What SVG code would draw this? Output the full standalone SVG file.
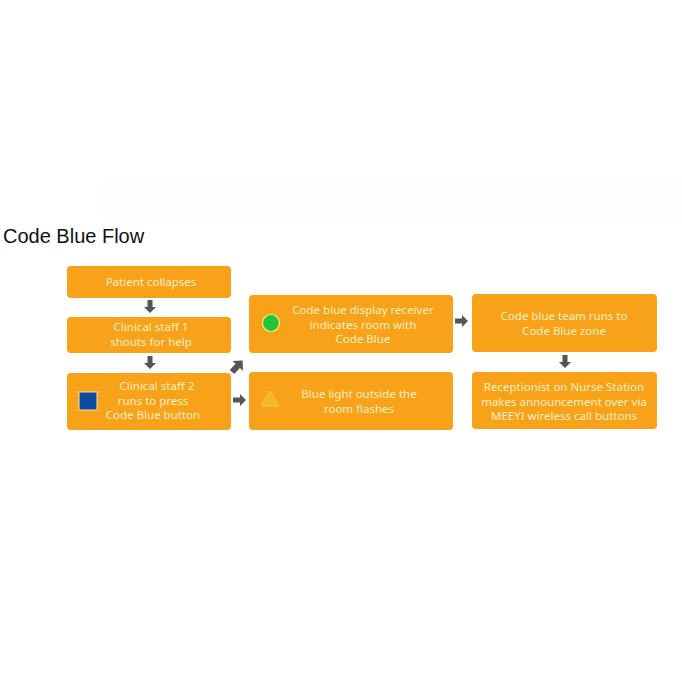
<svg xmlns="http://www.w3.org/2000/svg" width="682" height="682" viewBox="0 0 682 682">
<defs>
<style>
.box{fill:#f8a21a;}
.t{font-family:"Noto Sans","Open Sans",sans-serif;font-size:11.5px;fill:#fdf0c4;text-anchor:middle;}
.title{font-family:"Liberation Sans",Arial,sans-serif;font-size:20px;fill:#111;}
.arr{fill:#555;}
</style>
<polygon id="ar" class="arr" points="0,-2.5 7,-2.5 7,-6 13,0 7,6 7,2.5 0,2.5"/>
</defs>
<rect width="682" height="682" fill="#fff"/>
<rect x="103" y="178" width="579" height="44" fill="#fdfdfd"/>
<text class="title" x="3" y="243">Code Blue Flow</text>
<g id="n1"><rect class="box" x="67" y="266" width="164" height="32" rx="4"/><text class="t" x="151" y="286">Patient collapses</text></g>
<g id="n2"><rect class="box" x="67" y="317" width="164" height="36" rx="4"/><text class="t" x="151" y="331">Clinical staff 1</text><text class="t" x="151" y="346">shouts for help</text></g>
<g id="n3"><rect class="box" x="67" y="373" width="164" height="57" rx="4"/><rect x="79" y="392" width="18" height="18" fill="#0c4b9e" stroke="#f3e2a8" stroke-width="1"/><text class="t" x="157" y="390">Clinical staff 2</text><text class="t" x="153" y="404.5">runs to press</text><text class="t" x="153" y="419">Code Blue button</text></g>
<g id="n4"><rect class="box" x="249" y="295" width="204" height="58" rx="4"/><circle cx="271" cy="323" r="8.5" fill="#22c43a" stroke="#f6ee7a" stroke-width="1.2"/><text class="t" x="363" y="314">Code blue display receiver</text><text class="t" x="363" y="328.5">indicates room with</text><text class="t" x="363" y="343">Code Blue</text></g>
<g id="n5"><rect class="box" x="249" y="372" width="204" height="58" rx="4"/><polygon points="270,391 279,406 261,406" fill="#f5b42e" stroke="#f7c94a" stroke-width="1"/><text class="t" x="359" y="398">Blue light outside the</text><text class="t" x="359" y="412.5">room flashes</text></g>
<g id="n6"><rect class="box" x="472" y="294" width="185" height="58" rx="4"/><text class="t" x="564" y="320">Code blue team runs to</text><text class="t" x="564" y="334.5">Code Blue zone</text></g>
<g id="n7"><rect class="box" x="472" y="372" width="185" height="57" rx="4"/><text class="t" x="564" y="391">Receptionist on Nurse Station</text><text class="t" x="564" y="405.5">makes announcement over via</text><text class="t" x="564" y="420">MEEYI wireless call buttons</text></g>
<g id="connectors">
<use href="#ar" transform="translate(232,372) rotate(-47) scale(1.2)"/>
<use href="#ar" transform="translate(150,300) rotate(90)"/>
<use href="#ar" transform="translate(150,356) rotate(90)"/>
<use href="#ar" transform="translate(233,400)"/>
<use href="#ar" transform="translate(455,321)"/>
<use href="#ar" transform="translate(565,355) rotate(90)"/>
</g>
</svg>
